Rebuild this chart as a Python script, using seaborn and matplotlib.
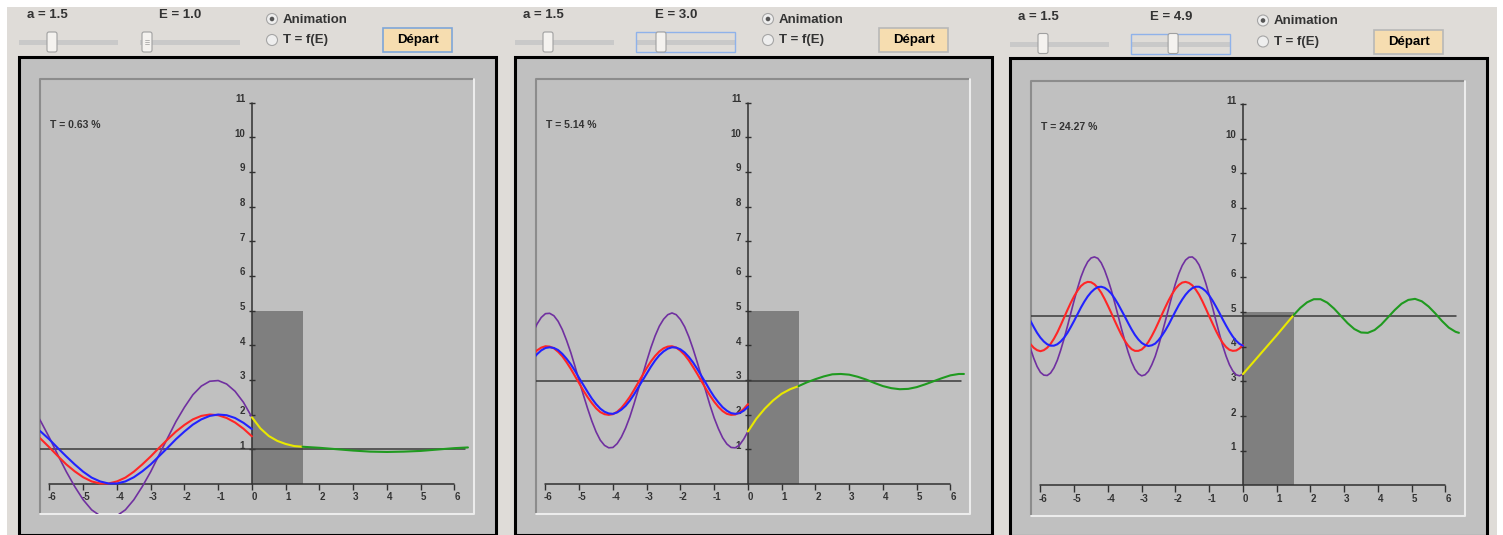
import numpy as np
import pandas as pd
import seaborn as sns
import matplotlib.pyplot as plt
from matplotlib.patches import Rectangle, Circle, FancyBboxPatch

a_largeur = 1.5
v0_barriere = 5
E_valeurs = [1.0, 3.0, 4.9]
E_lignes = [1.0, 2.96, 4.88]
T_textes = ['T = 0.63 %', 'T = 5.14 %', 'T = 24.27 %']
x_graduations = [-6, -5, -4, -3, -2, -1, 0, 1, 2, 3, 4, 5, 6]
y_graduations = [1, 2, 3, 4, 5, 6, 7, 8, 9, 10, 11]

# abscisses des points relevés
x_gauche_1 = [-6.5, -6.25, -6.0, -5.75, -5.5, -5.25, -5.0, -4.75, -4.5, -4.25, -4.0, -3.75, -3.5, -3.25,
              -3.0, -2.75, -2.5, -2.25, -2.0, -1.75, -1.5, -1.25, -1.0, -0.75, -0.5, -0.25, 0.0]
x_gauche_2 = [-6.5, -6.375, -6.25, -6.125, -6.0, -5.875, -5.75, -5.625, -5.5, -5.375, -5.25, -5.125,
              -5.0, -4.875, -4.75, -4.625, -4.5, -4.375, -4.25, -4.125, -4.0, -3.875, -3.75, -3.625,
              -3.5, -3.375, -3.25, -3.125, -3.0, -2.875, -2.75, -2.625, -2.5, -2.375, -2.25, -2.125,
              -2.0, -1.875, -1.75, -1.625, -1.5, -1.375, -1.25, -1.125, -1.0, -0.875, -0.75, -0.625,
              -0.5, -0.375, -0.25, -0.125, 0.0]
x_gauche_3 = [-6.4, -6.3, -6.2, -6.1, -6.0, -5.9, -5.8, -5.7, -5.6, -5.5, -5.4, -5.3, -5.2, -5.1, -5.0,
              -4.9, -4.8, -4.7, -4.6, -4.5, -4.4, -4.3, -4.2, -4.1, -4.0, -3.9, -3.8, -3.7, -3.6, -3.5,
              -3.4, -3.3, -3.2, -3.1, -3.0, -2.9, -2.8, -2.7, -2.6, -2.5, -2.4, -2.3, -2.2, -2.1, -2.0,
              -1.9, -1.8, -1.7, -1.6, -1.5, -1.4, -1.3, -1.2, -1.1, -1.0, -0.9, -0.8, -0.7, -0.6, -0.5,
              -0.4, -0.3, -0.2, -0.1, 0.0]
x_barriere = [0.0, 0.25, 0.5, 0.75, 1.0, 1.25, 1.5]
x_droite_1 = [1.5, 2.0, 2.5, 3.0, 3.5, 4.0, 4.5, 5.0, 5.5, 6.0, 6.4]
x_droite_2 = [1.5, 1.75, 2.0, 2.25, 2.5, 2.75, 3.0, 3.25, 3.5, 3.75, 4.0, 4.25, 4.5, 4.75, 5.0, 5.25,
              5.5, 5.75, 6.0, 6.25, 6.4]
x_droite_3 = [1.5, 1.7, 1.9, 2.1, 2.3, 2.5, 2.7, 2.9, 3.1, 3.3, 3.5, 3.7, 3.9, 4.1, 4.3, 4.5, 4.7, 4.9,
              5.1, 5.3, 5.5, 5.7, 5.9, 6.1, 6.3, 6.4]

# E = 1.0
rouge_1 = [1.51, 1.29, 1.05, 0.80, 0.56, 0.36, 0.19, 0.07, 0.01, 0.01, 0.07, 0.18, 0.35, 0.56, 0.79,
           1.04, 1.28, 1.51, 1.70, 1.86, 1.96, 2.00, 1.98, 1.90, 1.77, 1.59, 1.37]
bleu_1 = [1.70, 1.50, 1.28, 1.03, 0.79, 0.56, 0.35, 0.18, 0.07, 0.01, 0.01, 0.07, 0.19, 0.36, 0.56,
          0.80, 1.04, 1.29, 1.51, 1.71, 1.86, 1.96, 2.00, 1.98, 1.90, 1.76, 1.58]
violet_1 = [2.21, 1.79, 1.33, 0.83, 0.35, -0.08, -0.46, -0.75, -0.92, -0.98, -0.92, -0.75, -0.46, -0.08,
            0.35, 0.84, 1.32, 1.80, 2.21, 2.57, 2.82, 2.96, 2.98, 2.88, 2.67, 2.35, 1.92]
jaune_1 = [1.92, 1.60, 1.38, 1.24, 1.15, 1.09, 1.07]
vert_1 = [1.07, 1.04, 1.00, 0.96, 0.93, 0.92, 0.93, 0.95, 0.99, 1.03, 1.05]

# E = 3.0
rouge_2 = [3.57, 3.73, 3.85, 3.93, 3.97, 3.96, 3.91, 3.81, 3.68, 3.51, 3.32, 3.11, 2.90, 2.69, 2.50,
           2.33, 2.18, 2.07, 2.01, 1.99, 2.01, 2.08, 2.19, 2.34, 2.51, 2.71, 2.92, 3.13, 3.34, 3.53,
           3.69, 3.82, 3.91, 3.96, 3.97, 3.93, 3.84, 3.72, 3.56, 3.37, 3.17, 2.96, 2.75, 2.55, 2.37,
           2.22, 2.10, 2.02, 1.99, 2.00, 2.06, 2.16, 2.30]
bleu_2 = [3.43, 3.60, 3.74, 3.85, 3.92, 3.94, 3.92, 3.86, 3.75, 3.61, 3.45, 3.26, 3.05, 2.85, 2.65,
          2.46, 2.30, 2.17, 2.08, 2.03, 2.02, 2.06, 2.14, 2.25, 2.40, 2.58, 2.78, 2.98, 3.18, 3.38,
          3.56, 3.71, 3.82, 3.90, 3.94, 3.93, 3.88, 3.79, 3.66, 3.50, 3.31, 3.11, 2.91, 2.70, 2.51,
          2.35, 2.21, 2.11, 2.04, 2.02, 2.04, 2.11, 2.22]
violet_2 = [4.02, 4.35, 4.61, 4.80, 4.91, 4.92, 4.85, 4.69, 4.45, 4.14, 3.79, 3.39, 2.97, 2.56, 2.17,
            1.81, 1.50, 1.26, 1.11, 1.04, 1.05, 1.16, 1.35, 1.61, 1.93, 2.31, 2.72, 3.13, 3.54, 3.93,
            4.27, 4.55, 4.75, 4.88, 4.93, 4.88, 4.74, 4.53, 4.24, 3.89, 3.50, 3.09, 2.68, 2.27, 1.90,
            1.59, 1.33, 1.15, 1.05, 1.04, 1.12, 1.29, 1.51]
jaune_2 = [1.51, 1.88, 2.17, 2.41, 2.60, 2.73, 2.82]
vert_2 = [2.82, 2.93, 3.02, 3.10, 3.16, 3.17, 3.15, 3.09, 3.01, 2.91, 2.82, 2.76, 2.73, 2.74, 2.79,
          2.87, 2.96, 3.05, 3.13, 3.17, 3.17]

# E = 4.9
rouge_3 = [4.23, 4.08, 3.97, 3.90, 3.87, 3.90, 3.97, 4.08, 4.23, 4.41, 4.62, 4.84, 5.06, 5.27, 5.46,
           5.62, 5.75, 5.83, 5.87, 5.86, 5.80, 5.70, 5.56, 5.38, 5.18, 4.97, 4.75, 4.54, 4.34, 4.17,
           4.03, 3.93, 3.88, 3.88, 3.92, 4.01, 4.14, 4.31, 4.50, 4.71, 4.93, 5.14, 5.34, 5.52, 5.67,
           5.78, 5.85, 5.87, 5.84, 5.77, 5.65, 5.50, 5.31, 5.10, 4.88, 4.67, 4.46, 4.27, 4.11, 3.99,
           3.91, 3.88, 3.89, 3.95, 4.05]
bleu_3 = [4.94, 4.75, 4.57, 4.40, 4.26, 4.15, 4.07, 4.03, 4.03, 4.07, 4.15, 4.26, 4.40, 4.57, 4.75,
          4.94, 5.13, 5.30, 5.45, 5.57, 5.66, 5.72, 5.73, 5.70, 5.63, 5.53, 5.39, 5.23, 5.05, 4.87,
          4.68, 4.50, 4.34, 4.21, 4.11, 4.05, 4.02, 4.04, 4.09, 4.19, 4.32, 4.47, 4.64, 4.83, 5.02,
          5.20, 5.36, 5.50, 5.61, 5.69, 5.73, 5.73, 5.68, 5.60, 5.48, 5.33, 5.16, 4.98, 4.79, 4.61,
          4.44, 4.29, 4.17, 4.08, 4.03]
violet_3 = [4.30, 3.96, 3.67, 3.43, 3.26, 3.18, 3.17, 3.24, 3.39, 3.61, 3.90, 4.23, 4.59, 4.97, 5.34,
            5.69, 6.01, 6.26, 6.45, 6.56, 6.59, 6.55, 6.42, 6.21, 5.94, 5.63, 5.27, 4.90, 4.52, 4.17,
            3.84, 3.56, 3.35, 3.22, 3.16, 3.19, 3.29, 3.48, 3.72, 4.03, 4.38, 4.74, 5.11, 5.48, 5.82,
            6.11, 6.34, 6.50, 6.58, 6.59, 6.51, 6.36, 6.12, 5.83, 5.49, 5.13, 4.75, 4.38, 4.03, 3.73,
            3.48, 3.30, 3.19, 3.16, 3.21]
jaune_3 = [3.21, 3.49, 3.77, 4.05, 4.33, 4.62, 4.91]
vert_3 = [4.91, 5.12, 5.28, 5.37, 5.37, 5.27, 5.10, 4.89, 4.68, 4.51, 4.41, 4.40, 4.48, 4.64, 4.85,
          5.06, 5.24, 5.35, 5.38, 5.31, 5.16, 4.96, 4.74, 4.55, 4.43, 4.40]

panneaux = [
    (x_gauche_1, rouge_1, bleu_1, violet_1, jaune_1, x_droite_1, vert_1),
    (x_gauche_2, rouge_2, bleu_2, violet_2, jaune_2, x_droite_2, vert_2),
    (x_gauche_3, rouge_3, bleu_3, violet_3, jaune_3, x_droite_3, vert_3),
]

sns.set_theme(style='white')
plt.rcParams['font.family'] = ['Liberation Sans', 'DejaVu Sans']

W, H = 1503, 535
fig = plt.figure(figsize=(W / 100, H / 100), dpi=100)
fig.patch.set_facecolor('white')

# fond (coordonnées en pixels)
bg = fig.add_axes([0, 0, 1, 1])
bg.set_xlim(0, W)
bg.set_ylim(H, 0)
bg.axis('off')
bg.add_patch(Rectangle((7, 7), 1490, 530, fc='#dfdcd8', ec='none'))

texte = '#333333'
decalages = [(0, 0), (496, 0), (991, 1.5)]


def curseur(x, y, grip=False):
    bg.add_patch(FancyBboxPatch((x, y), 10, 20, boxstyle='round,pad=0,rounding_size=2',
                                fc='#f4f2ef', ec='#a0a0a0', lw=0.8, zorder=3))
    if grip:
        for k in range(3):
            bg.plot([x + 3, x + 7], [y + 8 + 2 * k, y + 8 + 2 * k], color='#9a9a9a', lw=0.5, zorder=4)


for i, (dx, dy) in enumerate(decalages):
    E = E_valeurs[i]
    # controles du haut
    bg.text(47 + dx, 15 + dy, 'a = 1.5', ha='center', va='center', fontsize=9.5, weight='bold', color=texte)
    bg.text(180 + dx, 15 + dy, f'E = {E:.1f}', ha='center', va='center', fontsize=9.5, weight='bold',
            color=texte)
    bg.add_patch(Rectangle((19 + dx, 40 + dy), 99, 5, fc='#c9c9c9', ec='none'))
    bg.add_patch(Rectangle((140 + dx, 40 + dy), 100, 5, fc='#c9c9c9', ec='none'))
    curseur(47 + dx, 32 + dy)
    curseur(142 + (E - 1) * 9.0 + dx, 32 + dy, grip=(i == 0))
    if i > 0:
        bg.add_patch(Rectangle((140 + dx, 32 + dy), 99, 20, fill=False, ec='#8fb2ea', lw=1.0))
    bg.add_patch(Circle((272 + dx, 19 + dy), 5.5, fc='#eeeeee', ec='#a5a5a5', lw=0.8))
    bg.add_patch(Circle((272 + dx, 19 + dy), 2.3, fc='#555555', ec='none'))
    bg.add_patch(Circle((272 + dx, 40 + dy), 5.5, fc='#eeeeee', ec='#a5a5a5', lw=0.8))
    bg.text(283 + dx, 20 + dy, 'Animation', ha='left', va='center', fontsize=9.5, weight='bold', color=texte)
    bg.text(283 + dx, 40 + dy, 'T = f(E)', ha='left', va='center', fontsize=9.5, weight='bold', color=texte)
    bg.add_patch(Rectangle((383 + dx, 28 + dy), 69, 24, fc='#f6ddb0',
                           ec='#7ea6d8' if i == 0 else '#b8b8b8', lw=1.2))
    bg.text(418 + dx, 40 + dy, 'Départ', ha='center', va='center', fontsize=9.5, weight='bold', color='black')

    # cadre du graphique
    bg.add_patch(Rectangle((18.5 + dx, 56.5 + dy), 477, 478, fc='#c0c0c0', ec='black', lw=2.2))
    bg.plot([40 + dx, 40 + dx, 474 + dx], [514 + dy, 79 + dy, 79 + dy], color='#8c8c8c', lw=1.5)
    bg.plot([40 + dx, 474 + dx, 474 + dx], [514 + dy, 514 + dy, 79 + dy], color='#ececec', lw=1.5)
    bg.text(50 + dx, 125 + dy, T_textes[i], ha='left', va='center', fontsize=7.5, weight='bold', color=texte)

    # zone des courbes
    ax = fig.add_axes([(40 + dx) / W, (H - 514 - dy) / H, 434 / W, 435 / H])
    ax.set_xlim(-6.28, 6.58)
    ax.set_ylim(-0.87, 11.68)
    ax.axis('off')

    ax.add_patch(Rectangle((0, 0), a_largeur, v0_barriere, fc='#7f7f7f', ec='none', zorder=1))
    ax.plot([0, 0], [0, 11], color='#303030', lw=1.1, zorder=2)
    ax.plot([x_graduations[0], x_graduations[-1]], [0, 0], color='#303030', lw=1.1, zorder=2)
    ax.hlines(y_graduations, -0.09, 0.09, color='#303030', lw=1.0, zorder=2)
    ax.vlines(x_graduations, -0.18, 0, color='#303030', lw=1.0, zorder=2)
    for yt in y_graduations:
        ax.text(-0.2, yt + 0.1, str(yt), ha='right', va='center', fontsize=7, weight='bold', color=texte)
    for xt in x_graduations:
        ax.text(xt + 0.08, -0.39, str(xt), ha='center', va='center', fontsize=7, weight='bold', color=texte)
    ax.plot([-6.28, 6.3], [E_lignes[i], E_lignes[i]], color='#3a3a3a', lw=1.1, zorder=2)

    xg, rouge, bleu, violet, jaune, xd, vert = panneaux[i]
    sns.lineplot(x=xg, y=violet, ax=ax, color='#7030a0', linewidth=1.2, zorder=3)
    sns.lineplot(x=xg, y=rouge, ax=ax, color='#ff2626', linewidth=1.5, zorder=4)
    sns.lineplot(x=xg, y=bleu, ax=ax, color='#2222ff', linewidth=1.5, zorder=5)
    sns.lineplot(x=x_barriere, y=jaune, ax=ax, color='#e8e800', linewidth=1.5, zorder=5)
    sns.lineplot(x=xd, y=vert, ax=ax, color='#1f9a1f', linewidth=1.5, zorder=5)

fig.savefig('out.png', dpi=100)
